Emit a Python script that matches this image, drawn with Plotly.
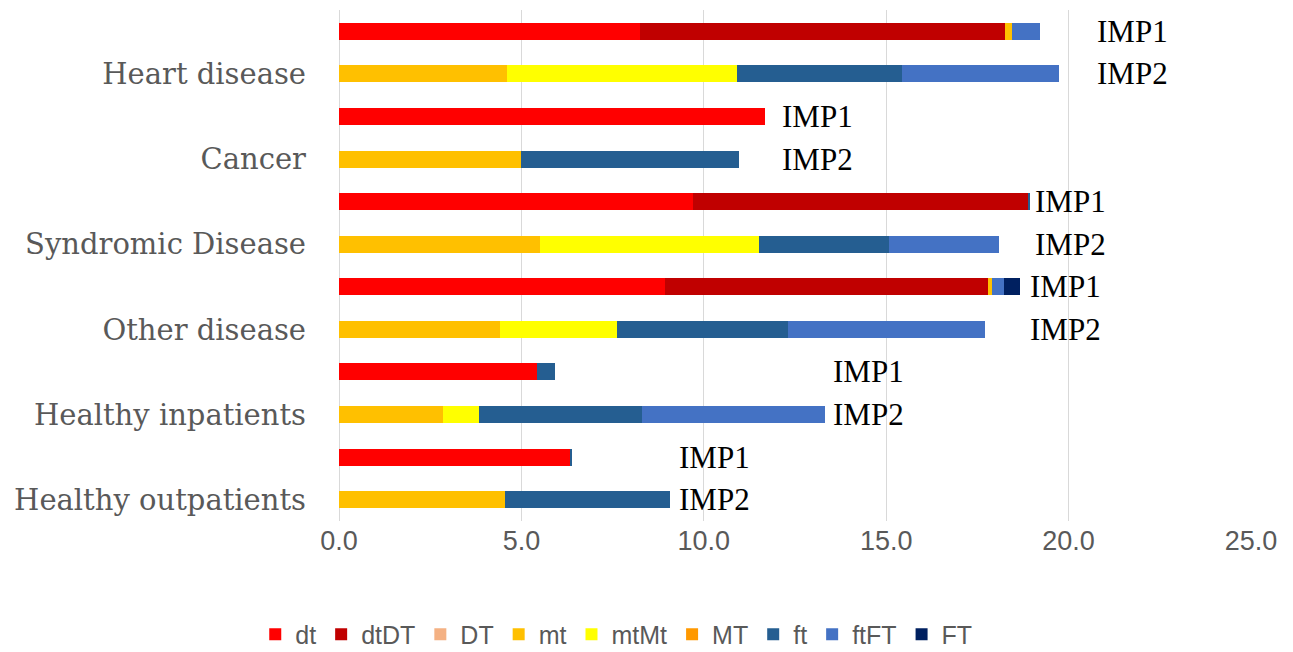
import plotly.graph_objects as go

categories = ["Heart disease", "Cancer", "Syndromic Disease", "Other disease",
              "Healthy inpatients", "Healthy outpatients"]
imp_names = ["IMP1", "IMP2"]
series_names = ["dt", "dtDT", "DT", "mt", "mtMt", "MT", "ft", "ftFT", "FT"]

# 12 bars: for each category IMP1 then IMP2
dt   = [8.26, 0, 11.67, 0, 9.71, 0, 8.94, 0, 5.43, 0, 6.32, 0]
dtDT = [9.99, 0, 0, 0, 9.20, 0, 8.84, 0, 0, 0, 0, 0]
DT   = [0, 0, 0, 0, 0, 0, 0, 0, 0, 0, 0, 0]
mt   = [0.19, 4.60, 0, 4.98, 0, 5.52, 0.11, 4.40, 0, 2.84, 0, 4.54]
mtMt = [0, 6.30, 0, 0, 0, 5.99, 0, 3.23, 0, 1.01, 0, 0]
MT   = [0, 0, 0, 0, 0, 0, 0, 0, 0, 0, 0, 0]
ft   = [0, 4.52, 0, 5.99, 0.04, 3.57, 0, 4.68, 0.48, 4.46, 0.07, 4.54]
ftFT = [0.78, 4.33, 0, 0, 0, 3.02, 0.33, 5.41, 0, 5.02, 0, 0]
FT   = [0, 0, 0, 0, 0, 0, 0.45, 0, 0, 0, 0, 0]

# x position (data units) of the IMP1/IMP2 text labels for each category
label_x = [20.8, 12.17, 19.1, 18.97, 13.57, 9.35]

series_values = [dt, dtDT, DT, mt, mtMt, MT, ft, ftFT, FT]
colors = ["#FF0000", "#C00000", "#F4B183", "#FFC000", "#FFFF00",
          "#FF9900", "#255E91", "#4472C4", "#002060"]

rows = list(range(len(categories) * 2))

fig = go.Figure()
for name, vals, col in zip(series_names, series_values, colors):
    fig.add_trace(go.Bar(
        x=vals, y=rows, name=name, orientation="h",
        marker=dict(color=col, line=dict(width=0)),
        width=0.4,
    ))

annotations = []
for i, cat in enumerate(categories):
    for j, imp in enumerate(imp_names):
        annotations.append(dict(
            x=label_x[i], y=2 * i + j, xref="x", yref="y",
            text=imp, showarrow=False, xanchor="left", yanchor="middle",
            xshift=-3,
            font=dict(family="Liberation Serif", size=31, color="#000000"),
        ))

fig.update_layout(
    barmode="stack",
    width=1285, height=644,
    margin=dict(l=330.5, r=41.5, t=2, b=131, autoexpand=False),
    plot_bgcolor="white", paper_bgcolor="white",
    annotations=annotations,
    showlegend=True,
    legend=dict(
        orientation="h", x=0.304, xanchor="center", y=-0.222, yanchor="middle",
        font=dict(family="Liberation Sans Narrow, Liberation Sans", size=25, color="#595959"),
        traceorder="normal", itemclick=False,
    ),
    bargap=0.6,
)
fig.update_xaxes(
    range=[0, 25], dtick=5, tickformat=".1f",
    showgrid=True, gridcolor="#D9D9D9", gridwidth=1,
    zeroline=True, zerolinecolor="#D9D9D9", zerolinewidth=1,
    showline=False, ticks="",
    tickfont=dict(family="Liberation Sans", size=27, color="#595959"),
    ticklabelstandoff=1,
)
fig.update_yaxes(
    range=[11.5, -0.5],
    tickmode="array",
    tickvals=[2 * i + 1 for i in range(len(categories))],
    ticktext=categories,
    showgrid=False, zeroline=False, showline=False, ticks="",
    tickfont=dict(family="DejaVu Serif", size=29, color="#595959"),
    ticklabelstandoff=32,
)

fig.write_html("out.html")
